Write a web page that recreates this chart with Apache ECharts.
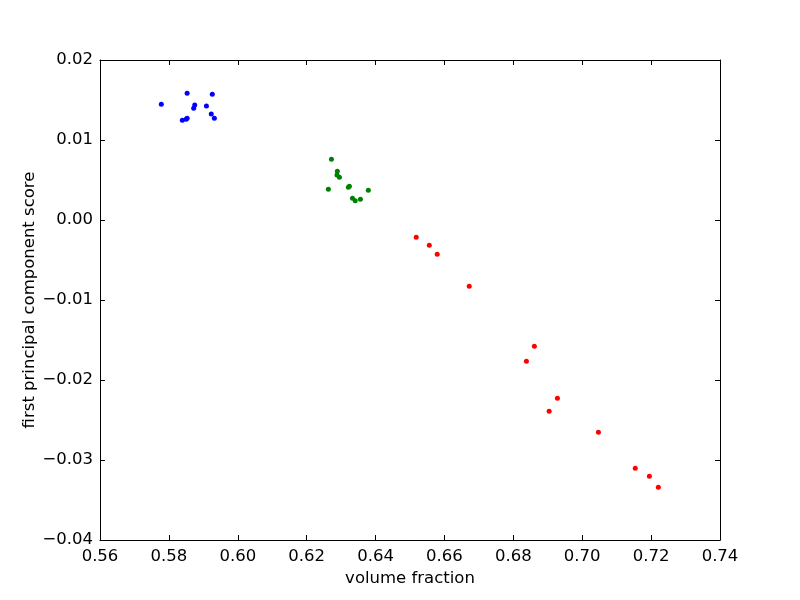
<!DOCTYPE html>
<html>
<head>
<meta charset="utf-8">
<script src="https://cdn.jsdelivr.net/npm/echarts@6/dist/echarts.min.js"></script>
<style>html,body{margin:0;padding:0;background:#fff}#c{width:800px;height:600px}</style>
</head>
<body>
<div id="c"></div>
<script>
const blueX = [0.5778, 0.5853, 0.5926, 0.5875, 0.5872, 0.5909, 0.5923, 0.5932, 0.5839, 0.5850, 0.5853];
const blueY = [0.01446, 0.01584, 0.01571, 0.01438, 0.01396, 0.01425, 0.01325, 0.01271, 0.01246, 0.01259, 0.01271];
const greenX = [0.6272, 0.6289, 0.6288, 0.6295, 0.6263, 0.6321, 0.6324, 0.6379, 0.6333, 0.6341, 0.6356];
const greenY = [0.00759, 0.00609, 0.00562, 0.00534, 0.00384, 0.00409, 0.00421, 0.00371, 0.00271, 0.00241, 0.00259];
const redX = [0.6518, 0.6556, 0.6579, 0.6672, 0.6861, 0.6838, 0.6928, 0.6904, 0.7047, 0.7154, 0.7195, 0.7221];
const redY = [-0.00216, -0.00316, -0.00429, -0.00829, -0.01579, -0.01766, -0.02229, -0.02391, -0.02654, -0.03104, -0.03204, -0.03341];
const xTicks = [0.56, 0.58, 0.60, 0.62, 0.64, 0.66, 0.68, 0.70, 0.72, 0.74];
const yTicks = [-0.04, -0.03, -0.02, -0.01, 0.00, 0.01, 0.02];

const pair = (xs, ys) => xs.map((x, i) => [x, ys[i]]);
const fmt = v => v.toFixed(2).replace('-', '\u2212');
const font = 'DejaVu Sans';
const fs = 16.5;
const axisCommon = {
  axisLine: {show: true, onZero: false, lineStyle: {color: '#000', width: 1}},
  axisTick: {show: true, inside: true, length: 5, lineStyle: {color: '#000'}},
  splitLine: {show: false}
};
const chart = echarts.init(document.getElementById('c'), null, {renderer: 'canvas'});
chart.setOption({
  animation: false,
  backgroundColor: '#fff',
  grid: {left: 100, right: 80, top: 60, bottom: 60},
  xAxis: [
    Object.assign({type: 'value', position: 'bottom', min: xTicks[0], max: xTicks[xTicks.length - 1], interval: 0.02,
      name: 'volume fraction', nameLocation: 'middle', nameGap: 30, nameMoveOverlap: false,
      nameTextStyle: {fontFamily: font, fontSize: fs, color: '#000'},
      axisLabel: {fontFamily: font, fontSize: fs, color: '#000', margin: 8, formatter: fmt}}, axisCommon),
    Object.assign({type: 'value', position: 'top', min: xTicks[0], max: xTicks[xTicks.length - 1], interval: 0.02,
      axisLabel: {show: false}}, axisCommon)
  ],
  yAxis: [
    Object.assign({type: 'value', position: 'left', min: yTicks[0], max: yTicks[yTicks.length - 1], interval: 0.01,
      name: 'first principal component score', nameLocation: 'middle', nameGap: 62, nameMoveOverlap: false,
      nameTextStyle: {fontFamily: font, fontSize: fs, color: '#000'},
      axisLabel: {fontFamily: font, fontSize: fs, color: '#000', margin: 7, formatter: fmt}}, axisCommon),
    Object.assign({type: 'value', position: 'right', min: yTicks[0], max: yTicks[yTicks.length - 1], interval: 0.01,
      axisLabel: {show: false}}, axisCommon)
  ],
  series: [
    {type: 'scatter', data: pair(blueX, blueY), symbolSize: 5, itemStyle: {color: '#0000ff', opacity: 1}},
    {type: 'scatter', data: pair(greenX, greenY), symbolSize: 5, itemStyle: {color: '#008000', opacity: 1}},
    {type: 'scatter', data: pair(redX, redY), symbolSize: 5, itemStyle: {color: '#ff0000', opacity: 1}}
  ]
});
</script>
</body>
</html>
